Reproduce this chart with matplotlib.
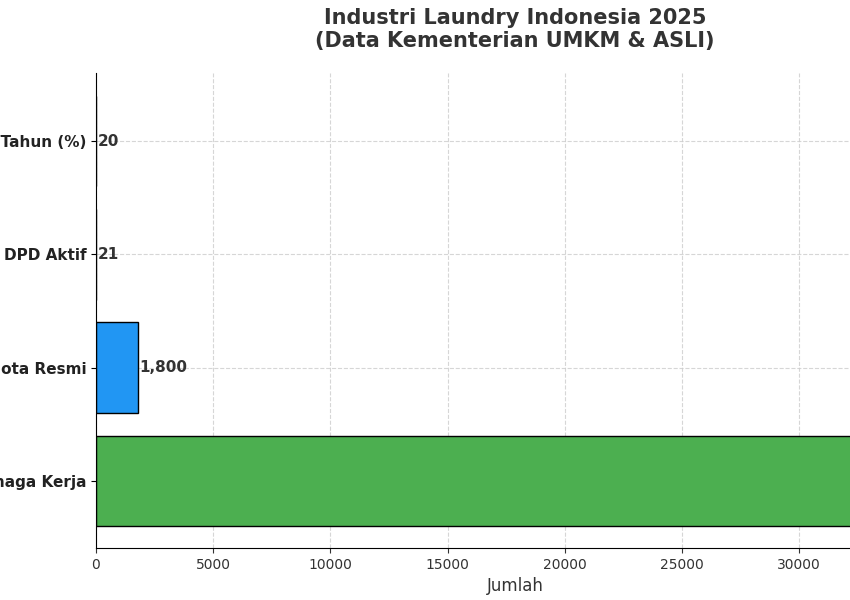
import matplotlib.pyplot as plt

categories = ["Tenaga Kerja", "Anggota Resmi", "DPD Aktif", "Pertumbuhan/Tahun (%)"]
values = [50000, 1800, 21, 20]
colors = ["#4CAF50", "#2196F3", "#FF9800", "#9C27B0"]

fig = plt.figure(figsize=(8.5, 6), dpi=100)
ax = fig.add_axes([96 / 850, 52 / 600, 838 / 850, 475 / 600])

bars = ax.barh(categories, values, color=colors, edgecolor="black", height=0.8)
for b, v in zip(bars, values):
    ax.text(v + 50, b.get_y() + b.get_height() / 2, f"{v:,}", va="center",
            ha="left", fontsize=11, fontweight="bold", color="#333333")

ax.set_xlim(0, 35750)
ax.set_ylim(-0.59, 3.6)
ax.spines["top"].set_visible(False)
ax.spines["right"].set_visible(False)
ax.grid(True, linestyle="--", color="#cccccc", alpha=0.8)
ax.set_axisbelow(True)
ax.tick_params(axis="y", labelsize=11)
for t in ax.get_yticklabels():
    t.set_fontweight("bold")
    t.set_color("#222222")
ax.tick_params(axis="x", labelsize=10, colors="#333333")
ax.set_xlabel("Jumlah", fontsize=12, color="#333333")

fig.text(515 / 850, 0.915, "Industri Laundry Indonesia 2025\n(Data Kementerian UMKM & ASLI)",
         ha="center", va="bottom", fontsize=15, fontweight="bold", color="#333333",
         linespacing=1.2)

fig.savefig("out.png", dpi=100)
